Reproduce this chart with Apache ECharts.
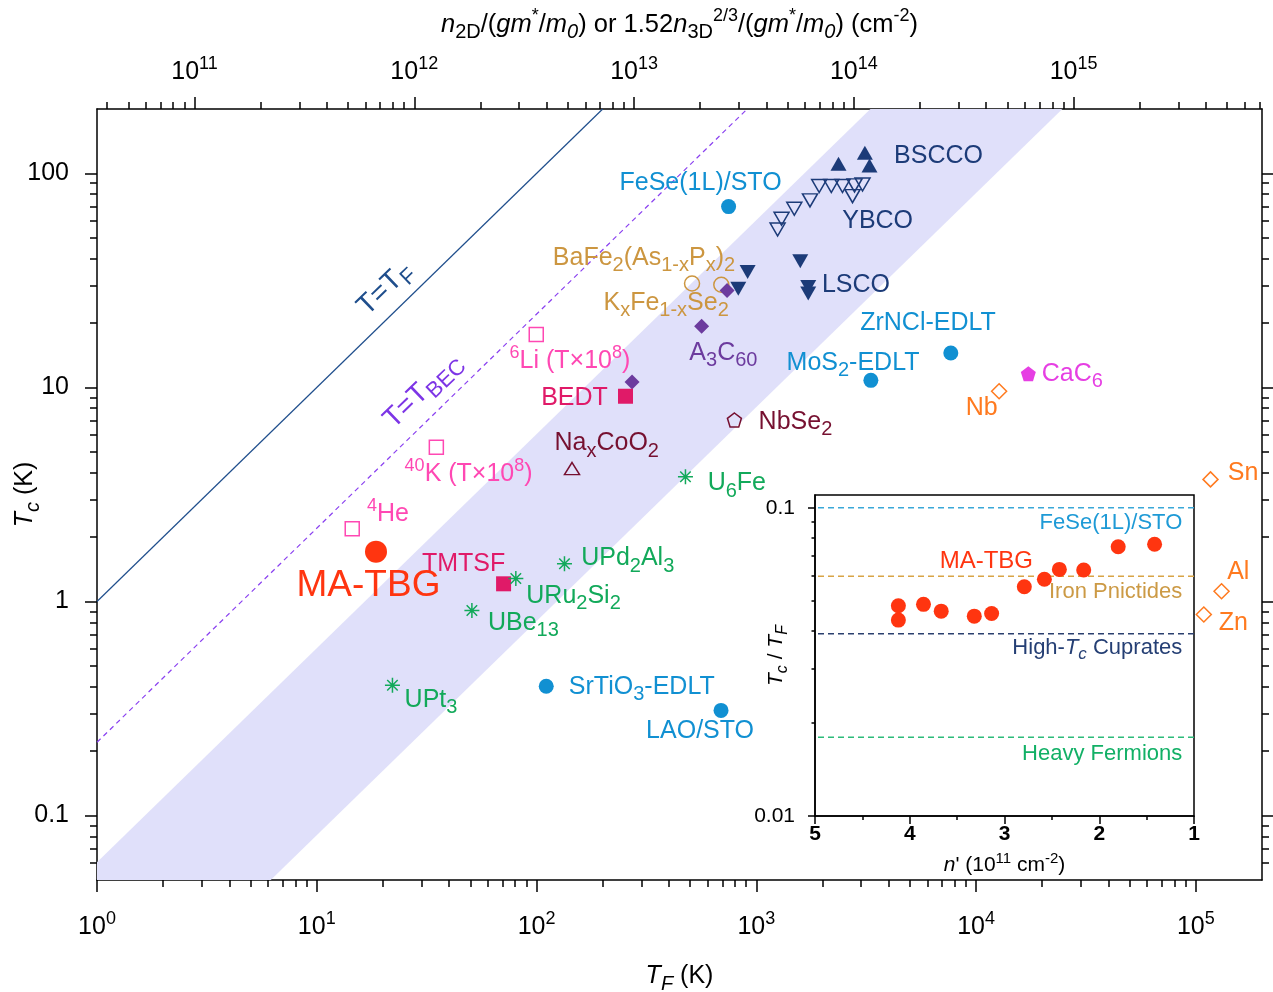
<!DOCTYPE html>
<html><head><meta charset="utf-8">
<script src="https://cdn.jsdelivr.net/npm/echarts@6/dist/echarts.min.js"></script>
<style>html,body{margin:0;padding:0;background:#fff}#c{width:1273px;height:992px}</style>
</head><body><div id="c"></div>
<script>
// ---------------- data (T_F in K, T_c in K) ----------------
const BSCCO   = [[2366,111],[3119,125],[3274,109]];
const YBCO    = [[1250,54.7],[1303,61.4],[1489,68.4],[1755,74.8],[1933,87.3],[2194,87.3],[2467,87.3],[2740,78.3],[2799,87.9],[3043,88.8]];
const LSCO    = [[913,34.6],[828,28.9],[1585,38.9],[1723,29.5],[1723,27.5]];
const FeSe    = [[748,70]];
const BaFe2   = [[510,30.6]];
const KFeSe   = [[693,30.2]];
const A3C60   = [[736,28.4],[564,19.3],[272,10.6]];
const BEDT    = [[254,9.1]];
const TMTSF   = [[70.8,1.21]];
const NbSe2   = [[795,7.05]];
const NaCoO2  = [[145,4.18]];
const EDLT    = [[3321,10.8],[7674,14.5],[110.7,0.402],[691,0.31]]; // MoS2, ZrNCl, SrTiO3, LAO/STO
const CaC6    = [[17290,11.6]];
const conventional = [[12730,9.6],[116600,3.72],[130900,1.117],[108700,0.87]]; // Nb, Sn, Al, Zn
const coldAtoms = [[99.7,17.7],[35,5.26],[14.5,2.19]]; // 6Li, 40K, 4He
const heavyFermions = [[476,3.83],[134,1.5],[80.5,1.28],[50.8,0.908],[22.1,0.406]]; // U6Fe, UPd2Al3, URu2Si2, UBe13, UPt3
const MATBG   = [[18.6,1.71]];

// inset: n' (1e11 cm^-2) and Tc/TF
const insetN     = [4.12,4.12,3.855,3.668,3.319,3.136,2.791,2.579,2.421,2.164,1.80,1.416];
const insetRatio = [0.0481,0.0432,0.0486,0.0462,0.0445,0.0454,0.0554,0.0586,0.0631,0.0628,0.0747,0.0761];
const insetRefNames  = ['FeSe(1L)/STO','Iron Pnictides','High-Tc Cuprates','Heavy Fermions'];
const insetRefRatios = [0.1,0.06,0.039,0.018];

// reference ratios Tc/TF
const fermiRatio = 1;
const becRatio = 0.22;
const bandRatios = [0.0081, 0.0605];

// axis ticks
const xMajor = [1,10,100,1e3,1e4,1e5];
const topMajor = [1e11,1e12,1e13,1e14,1e15];
const yMajor = [0.1,1,10,100];
const yMajorLabels = ['0.1','1','10','100'];
const insetYMajor = [0.01,0.1];
const insetYLabels = ['0.01','0.1'];

// ---------------- layout / style ----------------
const X0 = 1, X1 = 2e5, Y0 = 0.05, Y1 = 200;
const nPerTF = 3.6e10;           // n2D/(g m*/m0) per kelvin of T_F
const IX0 = 0.01, IX1 = 0.11;
const FONT = '"Liberation Sans", Arial, Helvetica, sans-serif';
const C = {navy:'#1c3b78', sky:'#1190d2', gold:'#cc9640', purple:'#6c3b9e', magenta:'#e63fe3',
  orange:'#ff7a1f', wine:'#761030', pink:'#ff48b3', crimson:'#e01a68', green:'#12a95a', red:'#ff3510'};

function minorList(lo, hi, k0, k1) {
  const out = [];
  for (let k = k0; k <= k1; k++) for (let m = 2; m <= 9; m++) {
    const v = m * Math.pow(10, k);
    if (v > lo * 1.0001 && v < hi * 0.9999) out.push(v);
  }
  return out;
}
const xMinor = minorList(X0, X1, 0, 5);
const yMinor = minorList(Y0, Y1, -2, 2);
const topMinor = minorList(X0 * nPerTF, X1 * nPerTF, 10, 15);
const insetYMinor = minorList(IX0, IX1, -2, -1);

function richSet(S) {
  const L = Math.round(S * 1.38), bs = Math.round(S * 0.78), ps = Math.round(S * 0.72);
  return {
    n:  {fontSize: S, lineHeight: L, fontFamily: FONT},
    i:  {fontSize: S, lineHeight: L, fontFamily: FONT, fontStyle: 'italic'},
    b:  {fontSize: bs, lineHeight: bs, fontFamily: FONT, verticalAlign: 'bottom'},
    ib: {fontSize: bs, lineHeight: bs, fontFamily: FONT, verticalAlign: 'bottom', fontStyle: 'italic'},
    p:  {fontSize: ps, lineHeight: ps, fontFamily: FONT, verticalAlign: 'top'}
  };
}
function markup(s) {
  if (s[0] === '{') return s;
  let out = '', buf = '';
  const flush = () => { if (buf) { out += '{n|' + buf + '}'; buf = ''; } };
  for (let k = 0; k < s.length; k++) {
    const c = s[k];
    if (c === '_' || c === '^') {
      flush();
      let t;
      if (s[k + 1] === '{') { const e = s.indexOf('}', k + 2); t = s.slice(k + 2, e); k = e; }
      else { t = s[k + 1]; k++; }
      out += '{' + (c === '_' ? 'b' : 'p') + '|' + t + '}';
    } else buf += c;
  }
  flush();
  return out;
}

// label anchors (data coordinates of the text's left-middle point)
const mainLabels = [
  ['BSCCO', 4237, 120.1, 'navy'], ['YBCO', 2460, 59.9, 'navy'], ['LSCO', 1989, 30.06, 'navy'],
  ['FeSe(1L)/STO', 238.5, 89.8, 'sky'], ['BaFe_2(As_{1-x}P_x)_2', 118.6, 40.1, 'gold'],
  ['K_xFe_{1-x}Se_2', 201.6, 24.9, 'gold'], ['A_3C_{60}', 495.9, 14.5, 'purple'],
  ['ZrNCl-EDLT', 2970, 19.9, 'sky'], ['MoS_2-EDLT', 1373, 12.95, 'sky'],
  ['CaC_6', 19890, 11.54, 'magenta'], ['Nb', 8980, 8.0, 'orange'], ['NbSe_2', 1024.5, 6.92, 'wine'],
  ['^6Li (T×10^8)', 75.4, 13.27, 'pink'], ['BEDT', 105.0, 8.95, 'crimson'],
  ['Na_xCoO_2', 120.7, 5.47, 'wine'], ['^{40}K (T×10^8)', 25.1, 3.92, 'pink'],
  ['U_6Fe', 600.6, 3.56, 'green'], ['^4He', 16.93, 2.55, 'pink'], ['TMTSF', 30.1, 1.489, 'crimson'],
  ['UPd_2Al_3', 159.6, 1.588, 'green'], ['URu_2Si_2', 89.8, 1.059, 'green'],
  ['UBe_{13}', 60.1, 0.795, 'green'], ['UPt_3', 25.1, 0.348, 'green'],
  ['SrTiO_3-EDLT', 140.3, 0.3995, 'sky'], ['LAO/STO', 315.2, 0.2477, 'sky'],
  ['Sn', 139700, 3.965, 'orange'], ['Al', 138800, 1.377, 'orange'], ['Zn', 127200, 0.789, 'orange']
];
const bigLabels = [['MA-TBG', 8.09, 1.179, 'red']];
const lineLabels = [['T=T_F', 20.4, 29.0, '#1f4e8c'], ['T=T_{BEC}', 30.3, 9.68, '#7d35e6']];
const insetLabels = [
  ['FeSe(1L)/STO', 1.124, 0.0894, '#1e9ad6'], ['Iron Pnictides', 1.124, 0.0534, '#cc9a45'],
  ['{n|High-}{i|T}{ib|c}{n| Cuprates}', 1.124, 0.0352, '#253f74'], ['Heavy Fermions', 1.124, 0.01594, '#12b066']
];
const insetBigLabels = [['MA-TBG', 2.699, 0.0671, '#ff3510']];
const insetRefColors = ['#3aa8d8','#d8a446','#2b3f6e','#2dbb7a'];

// ---------------- helpers ----------------
const BLK = {color: '#000', width: 1.5};
function sc(data, symbol, color, size, open, rotate) {
  return {
    type: 'scatter', xAxisIndex: 0, yAxisIndex: 0, data, symbol, symbolSize: size,
    symbolRotate: rotate || 0, silent: true, z: 5,
    itemStyle: open ? {color: 'rgba(0,0,0,0)', borderColor: color, borderWidth: 1.5, opacity: 1} : {color, opacity: 1},
    emphasis: {disabled: true}
  };
}
function labelSeries(list, S, xi, yi, pos, rotate) {
  return {
    type: 'scatter', xAxisIndex: xi, yAxisIndex: yi, symbolSize: 0, silent: true, z: 10, clip: false,
    itemStyle: {opacity: 1},
    data: list.map(([t, x, y, c]) => ({
      value: [x, y], txt: markup(t),
      label: {color: C[c] || c}
    })),
    label: {show: true, position: pos, distance: 0, rotate: rotate || 0, opacity: 1,
      formatter: p => p.data.txt, rich: richSet(S), fontSize: S, fontFamily: FONT},
    emphasis: {disabled: true}
  };
}
const PENT = 'path://M10,0L19.51,6.91L15.88,18.09L4.12,18.09L0.49,6.91Z';
const AST = 'path://M10,0L10,20M0,10L20,10M3,3L17,17M3,17L17,3';

function logAxis(extra) {
  return Object.assign({
    type: 'log', logBase: 10, splitLine: {show: false}, minorTick: {show: false}, minorSplitLine: {show: false},
    axisLine: {show: true, onZero: false, lineStyle: BLK}, nameMoveOverlap: false
  }, extra);
}
const pow10 = v => '{n|10}{p|' + Math.round(Math.log10(v)) + '}';

const bandVerts = [[X0, Y0], [X0, X0 * bandRatios[1]], [Y1 / bandRatios[1], Y1], [Y1 / bandRatios[0], Y1], [Y0 / bandRatios[0], Y0]];

const option = {
  animation: false,
  backgroundColor: '#fff',
  textStyle: {fontFamily: FONT},
  grid: [
    {left: 97, right: 11, top: 109, bottom: 112, show: false, containLabel: false, outerBoundsMode: 'none'},
    {left: 815, right: 79, top: 495, bottom: 176, show: true, borderColor: '#000', borderWidth: 1.5, backgroundColor: '#fff',
      containLabel: false, outerBoundsMode: 'none'}
  ],
  xAxis: [
    logAxis({gridIndex: 0, position: 'bottom', min: X0, max: X1,
      axisTick: {show: true, length: 12, customValues: xMajor, lineStyle: BLK},
      axisLabel: {show: true, customValues: xMajor, margin: 30, color: '#000', formatter: pow10, rich: richSet(25)},
      name: '{i|T}{ib|F}{n| (K)}', nameLocation: 'middle', nameGap: 79, nameTextStyle: {color: '#000', rich: richSet(25)}}),
    logAxis({gridIndex: 0, position: 'top', min: X0 * nPerTF, max: X1 * nPerTF,
      axisTick: {show: true, length: 12, customValues: topMajor, lineStyle: BLK},
      axisLabel: {show: true, customValues: topMajor, margin: 19, color: '#000', formatter: pow10, rich: richSet(25)},
      name: '{i|n}{b|2D}{n|/(}{i|gm}{p|*}{n|/}{i|m}{ib|0}{n|) or 1.52}{i|n}{b|3D}{p|2/3}{n|/(}{i|gm}{p|*}{n|/}{i|m}{ib|0}{n|) (cm}{p|-2}{n|)}',
      nameLocation: 'middle', nameGap: 67, nameTextStyle: {color: '#000', rich: richSet(25.5)}}),
    {type: 'value', gridIndex: 1, position: 'bottom', min: 1, max: 5, interval: 1, inverse: true, nameMoveOverlap: false,
      splitLine: {show: false}, axisLine: {show: true, onZero: false, lineStyle: BLK},
      axisTick: {show: true, length: 8, lineStyle: BLK},
      minorTick: {show: true, splitNumber: 2, length: 4, lineStyle: BLK},
      axisLabel: {margin: 8, color: '#000', fontSize: 21, fontWeight: 'bold', fontFamily: FONT},
      name: "{i|n}{n|' (10}{p|11}{n| cm}{p|-2}{n|)}", nameLocation: 'middle', nameGap: 35,
      nameTextStyle: {color: '#000', rich: richSet(21)}},
    logAxis({gridIndex: 0, position: 'bottom', min: X0, max: X1, axisLine: {show: false},
      axisTick: {show: true, length: 7, customValues: xMinor, lineStyle: BLK}, axisLabel: {show: false}}),
    logAxis({gridIndex: 0, position: 'top', min: X0 * nPerTF, max: X1 * nPerTF, axisLine: {show: false},
      axisTick: {show: true, length: 7, customValues: topMinor, lineStyle: BLK}, axisLabel: {show: false}})
  ],
  yAxis: [
    logAxis({gridIndex: 0, position: 'left', min: Y0, max: Y1,
      axisTick: {show: true, length: 12, customValues: yMajor, lineStyle: BLK},
      axisLabel: {show: true, customValues: yMajor, margin: 28, color: '#000', fontSize: 25, fontFamily: FONT,
        formatter: v => yMajorLabels[yMajor.findIndex(t => Math.abs(Math.log10(t) - Math.log10(v)) < 1e-6)]},
      name: '{i|T}{ib|c}{n| (K)}', nameLocation: 'middle', nameGap: 54, nameTextStyle: {color: '#000', rich: richSet(25)}}),
    logAxis({gridIndex: 0, position: 'right', min: Y0, max: Y1,
      axisTick: {show: true, length: 12, customValues: yMajor, lineStyle: BLK}, axisLabel: {show: false}}),
    logAxis({gridIndex: 1, position: 'left', min: IX0, max: IX1,
      axisTick: {show: true, length: 7, customValues: insetYMajor, lineStyle: BLK},
      axisLabel: {show: true, customValues: insetYMajor, margin: 20, color: '#000', fontSize: 21, fontFamily: FONT,
        formatter: v => insetYLabels[insetYMajor.findIndex(t => Math.abs(Math.log10(t) - Math.log10(v)) < 1e-6)]},
      name: '{i|T}{ib|c}{n| / }{i|T}{ib|F}', nameLocation: 'middle', nameGap: 24, nameTextStyle: {color: '#000', rich: richSet(21)}}),
    logAxis({gridIndex: 0, position: 'left', min: Y0, max: Y1, axisLine: {show: false},
      axisTick: {show: true, length: 7, customValues: yMinor, lineStyle: BLK}, axisLabel: {show: false}}),
    logAxis({gridIndex: 0, position: 'right', min: Y0, max: Y1, axisLine: {show: false},
      axisTick: {show: true, length: 7, customValues: yMinor, lineStyle: BLK}, axisLabel: {show: false}}),
    logAxis({gridIndex: 1, position: 'left', min: IX0, max: IX1, axisLine: {show: false},
      axisTick: {show: true, length: 3.5, customValues: insetYMinor, lineStyle: BLK}, axisLabel: {show: false}})
  ],
  series: [
    {type: 'custom', xAxisIndex: 0, yAxisIndex: 0, data: [[X0, Y0]], silent: true, z: 1,
      renderItem: (params, api) => ({type: 'polygon', shape: {points: bandVerts.map(p => api.coord(p))}, style: {fill: '#e0e0fa'}})},
    {type: 'line', xAxisIndex: 0, yAxisIndex: 0, data: [[X0, X0 * fermiRatio], [Y1 / fermiRatio, Y1]], symbol: 'none', silent: true, z: 3,
      lineStyle: {color: '#1f4e8c', width: 1.2}},
    {type: 'line', xAxisIndex: 0, yAxisIndex: 0, data: [[X0, X0 * becRatio], [Y1 / becRatio, Y1]], symbol: 'none', silent: true, z: 3,
      lineStyle: {color: '#8a40f0', width: 1.2, type: [5, 4]}},
    sc(BSCCO, 'triangle', C.navy, [16, 14], false),
    sc(YBCO, 'triangle', C.navy, [15, 13], true, 180),
    sc(LSCO, 'triangle', C.navy, [16, 14], false, 180),
    sc(FeSe, 'circle', C.sky, 15, false),
    sc(EDLT, 'circle', C.sky, 15, false),
    sc(BaFe2, 'circle', C.gold, 15, true),
    sc(KFeSe, 'circle', C.gold, 15, true),
    sc(A3C60, 'diamond', C.purple, 15, false),
    sc(BEDT, 'rect', C.crimson, 15, false),
    sc(TMTSF, 'rect', C.crimson, 15, false),
    sc(NbSe2, PENT, C.wine, 14, true),
    sc(NaCoO2, 'triangle', C.wine, [15, 12], true),
    sc(CaC6, PENT, C.magenta, 15, false),
    sc(conventional, 'diamond', C.orange, 15, true),
    sc(coldAtoms, 'rect', C.pink, 14, true),
    sc(heavyFermions, AST, C.green, 15, true),
    sc(MATBG, 'circle', C.red, 22, false),
    labelSeries(mainLabels, 25, 0, 0, 'right'),
    labelSeries(bigLabels, 37, 0, 0, 'right'),
    labelSeries(lineLabels, 28, 0, 0, 'inside', 44),
    // inset
    ...insetRefRatios.map((r, k) => ({type: 'line', xAxisIndex: 2, yAxisIndex: 2, data: [[1, r], [5, r]], symbol: 'none', silent: true, z: 3,
      lineStyle: {color: insetRefColors[k], width: 1.5, type: [6, 4]}})),
    {type: 'scatter', xAxisIndex: 2, yAxisIndex: 2, data: insetN.map((n, k) => [n, insetRatio[k]]), symbol: 'circle', symbolSize: 15,
      itemStyle: {color: C.red, opacity: 1}, silent: true, z: 5},
    labelSeries(insetLabels, 22, 2, 2, 'left'),
    labelSeries(insetBigLabels, 24, 2, 2, 'left')
  ]
};
const chart = echarts.init(document.getElementById('c'), null, {renderer: 'canvas'});
chart.setOption(option);
</script></body></html>
